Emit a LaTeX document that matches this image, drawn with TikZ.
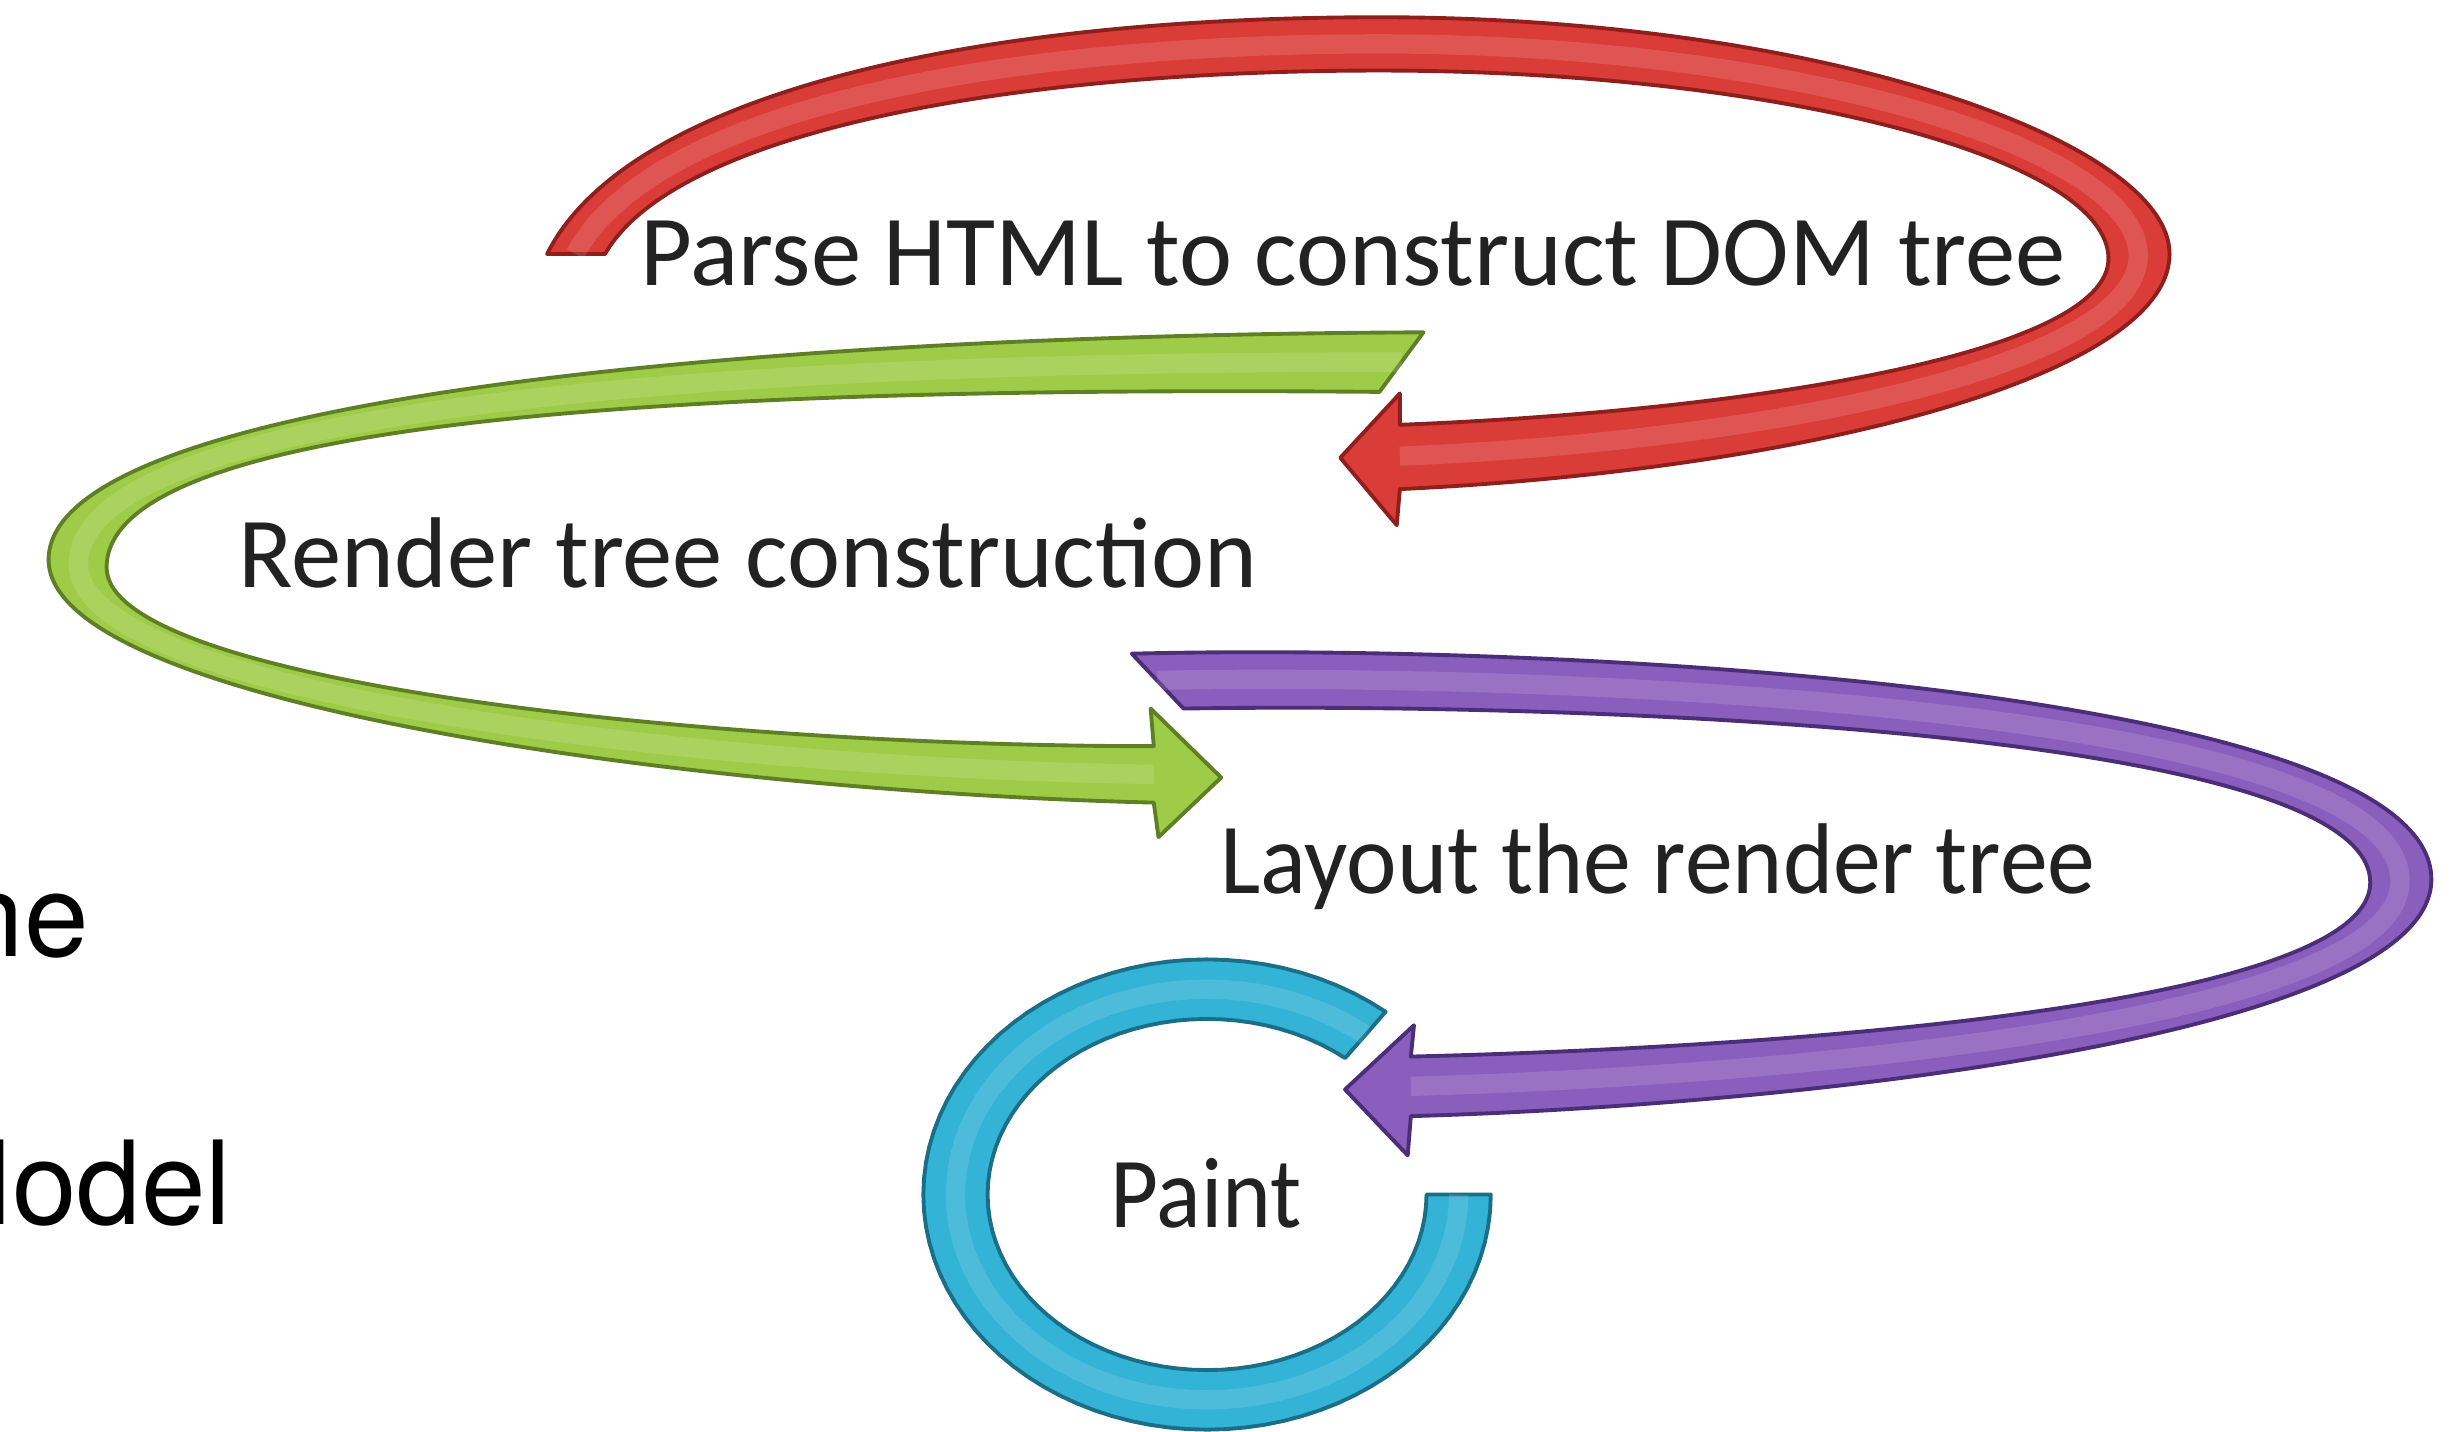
\documentclass[tikz,border=0pt]{standalone}
\usepackage{fontspec}
\setmainfont{Carlito}
\newfontfamily\helvfont{TeX Gyre Heros}

\definecolor{redfill}{HTML}{DA3C38}
\definecolor{redline}{HTML}{8E1F1C}
\definecolor{greenfill}{HTML}{9FCC48}
\definecolor{greenline}{HTML}{5F7F25}
\definecolor{purplefill}{HTML}{8A5EBC}
\definecolor{purpleline}{HTML}{4B2D78}
\definecolor{cyanfill}{HTML}{33B3D5}
\definecolor{cyanline}{HTML}{1B6E88}
\definecolor{labelgray}{HTML}{222222}

\begin{document}
\begin{tikzpicture}[x=0.015676cm, y=-0.015676cm,
  band/.style={line width=1.1pt, line join=round},
  redband/.style={band, fill=redfill, draw=redline},
  greenband/.style={band, fill=greenfill, draw=greenline},
  purpleband/.style={band, fill=purplefill, draw=purpleline},
  cyanband/.style={band, fill=cyanfill, draw=cyanline},
  gloss/.style={draw=white, draw opacity=0.13, line width=5.5pt, line cap=butt},
  stagelabel/.style={font=\fontsize{28.6}{34}\selectfont, text=labelgray,
    inner sep=0pt, anchor=base west},
  sidelabel/.style={font=\helvfont\fontsize{33}{40}\selectfont, text=black,
    inner sep=0pt, anchor=base east}]

\useasboundingbox (0,0) rectangle (1568,913);

% red loop: parse step, ending in the head that points at the render step
\path[redband]
  (349,162) .. controls (400,60) and (620,11) .. (880,11)
  .. controls (1160,11) and (1384,90) .. (1384,162)
  .. controls (1384,240) and (1150,300) .. (893,312)
  -- (891,335) -- (855,292) -- (893,251) -- (893,271)
  .. controls (1120,262) and (1345,225) .. (1345,165)
  .. controls (1345,100) and (1130,45) .. (880,45)
  .. controls (640,45) and (430,85) .. (386,162) -- cycle;
\path[gloss]
  (367,162) .. controls (415,72) and (630,28) .. (880,28)
  .. controls (1145,28) and (1364,95) .. (1364,163)
  .. controls (1364,232) and (1135,281) .. (893,291);

% green loop: render tree step, ending in the head that points at layout
\path[greenband]
  (908,212) .. controls (450,214) and (31,258) .. (31,357)
  .. controls (31,450) and (450,505) .. (736,512)
  -- (739,534) -- (779,496) -- (734,452) -- (736,476)
  .. controls (450,476) and (68,435) .. (68,362)
  .. controls (68,268) and (430,246) .. (880,250) -- cycle;
\path[gloss]
  (894,231) .. controls (440,230) and (50,263) .. (50,360)
  .. controls (50,443) and (450,490) .. (736,494);

% purple loop: layout step, ending in the head that points at paint
\path[purpleband]
  (722,417) .. controls (1000,410) and (1551,440) .. (1551,561)
  .. controls (1551,660) and (1150,705) .. (900,712)
  -- (898,737) -- (858,695) -- (902,654) -- (900,674)
  .. controls (1150,668) and (1512,640) .. (1512,563)
  .. controls (1512,465) and (1000,448) .. (755,452) -- cycle;
\path[gloss]
  (738,434) .. controls (1000,429) and (1531,452) .. (1531,562)
  .. controls (1531,650) and (1150,686) .. (900,693);

% cyan open ring round the paint step
\path[cyanband]
  plot[domain=51:360, samples=80] ({770+181*cos(\x)}, {762-150*sin(\x)})
  -- plot[domain=360:51, samples=80] ({770+140*cos(\x)}, {762-112*sin(\x)})
  -- cycle;
\path[gloss] plot[domain=51:360, samples=80] ({770+160.5*cos(\x)}, {762-131*sin(\x)});

% stage labels
\node[stagelabel] (parse) at (408,182) {Parse HTML to construct DOM tree};
\node[stagelabel] (render) at (152,375) {Render tree construction};
\node[stagelabel] (layout) at (778,570) {\scalebox{0.952}[1]{Layout the render tree}};
\node[stagelabel] (paint) at (708,783) {\scalebox{0.925}[1]{Paint}};

% slide text cut by the left edge
\node[sidelabel] (sideA) at (57,610) {ne};
\node[sidelabel] (sideB) at (148,781) {Model};
\end{tikzpicture}
\end{document}
